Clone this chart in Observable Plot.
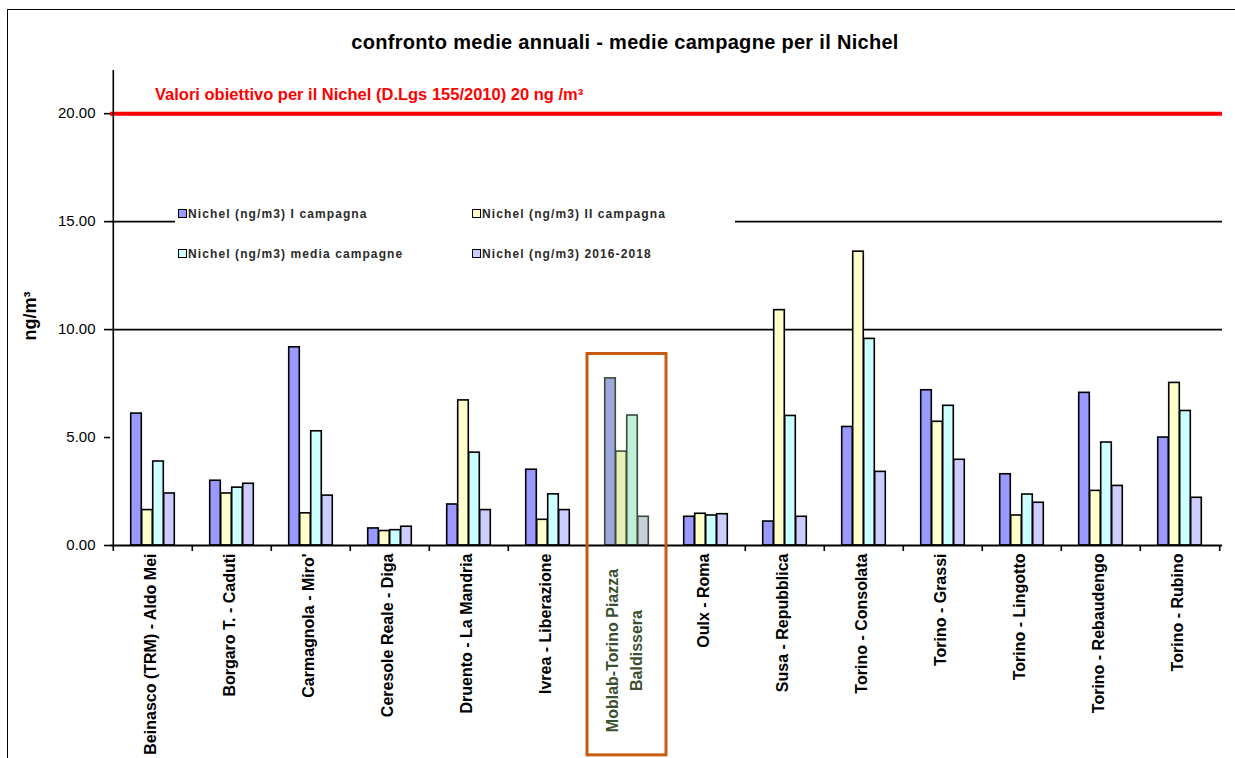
<!DOCTYPE html>
<html>
<head>
<meta charset="utf-8">
<script src="https://cdn.jsdelivr.net/npm/d3@7"></script>
<script src="https://cdn.jsdelivr.net/npm/@observablehq/plot@0.6"></script>
<style>
  html, body { margin: 0; padding: 0; background: #fff; overflow: hidden; width: 1235px; height: 758px; }
  body { position: relative; font-family: "Liberation Sans", Arial, sans-serif; }
  #frame { position: absolute; left: 7px; top: 9px; width: 1300px; height: 800px; border: 1.5px solid #000; box-sizing: border-box; }
  #title { position: absolute; left: 0; top: 31px; width: 1250px; text-align: center; font-weight: bold; font-size: 20px; letter-spacing: 0.3px; color: #000; }
  #chart { position: absolute; left: 0; top: 0; }
  #legend { position: absolute; left: 175px; top: 197px; width: 560px; height: 78px; background: #fff; }
  .li { position: absolute; font-size: 12px; font-weight: bold; letter-spacing: 1.1px; color: #2a2a2a; white-space: nowrap; }
  .sw { display: inline-block; width: 7px; height: 7px; border: 1px solid #000; margin-right: 1px; vertical-align: 0px; }
</style>
</head>
<body>
<div id="frame"></div>
<div id="chart"></div>
<div id="title"></div>
<div id="legend"></div>
<script>
// ---- data ----
const titleText = "confronto medie annuali - medie campagne per il Nichel";
const yLabel = "ng/m³";
const targetLabel = "Valori obiettivo per il Nichel (D.Lgs 155/2010) 20 ng /m³";
const targetValue = 20;
const stations = [
  "Beinasco (TRM) - Aldo Mei",
  "Borgaro T. - Caduti",
  "Carmagnola - Miro'",
  "Ceresole Reale - Diga",
  "Druento - La Mandria",
  "Ivrea - Liberazione",
  "Moblab-Torino Piazza\nBaldissera",
  "Oulx - Roma",
  "Susa - Repubblica",
  "Torino - Consolata",
  "Torino - Grassi",
  "Torino - Lingotto",
  "Torino - Rebaudengo",
  "Torino - Rubino"
];
const highlightStation = "Moblab-Torino Piazza\nBaldissera";
const seriesNames = [
  "Nichel (ng/m3) I campagna",
  "Nichel (ng/m3) II campagna",
  "Nichel (ng/m3) media campagne",
  "Nichel (ng/m3) 2016-2018"
];
const campagna1 = [6.11, 3.00, 9.18, 0.79, 1.90, 3.51, 7.74, 1.33, 1.11, 5.49, 7.19, 3.30, 7.07, 5.00];
const campagna2 = [1.64, 2.41, 1.49, 0.67, 6.72, 1.19, 4.35, 1.47, 10.90, 13.61, 5.73, 1.39, 2.53, 7.53];
const mediaCampagne = [3.89, 2.68, 5.29, 0.71, 4.30, 2.37, 6.02, 1.39, 6.00, 9.57, 6.47, 2.36, 4.77, 6.23];
const media2016_2018 = [2.41, 2.86, 2.31, 0.87, 1.64, 1.64, 1.33, 1.45, 1.33, 3.41, 3.97, 1.98, 2.76, 2.21];
const yTicks = [0, 5, 10, 15, 20];
const gridValues = [10, 15];
const yMax = 22;
const highlightTop = 8.87;
const highlightBottom = -9.72;

// ---- styles ----
const seriesColors = ["#9999FF", "#FFFFCC", "#CCFFFF", "#CCCCFF"];
const highlightColors = ["#9DA8DC", "#E6EFB8", "#C0EFD8", "#C6CFDA"];
const highlightStroke = "#3c4b3a";
const boxColor = "#C55A11";

const W = 1235, H = 758;
const mL = 110, mR = 13, mT = 70, mB = 213;
const step = (W - mL - mR) / stations.length;
const bw = 11;
const pad = (step - 4 * bw) / 2;

const allSeries = [campagna1, campagna2, mediaCampagne, media2016_2018];
const data = [];
allSeries.forEach((vals, si) => vals.forEach((v, ci) => data.push({station: stations[ci], series: si, value: v})));

const barMarks = allSeries.map((_, si) => Plot.barY(data.filter(d => d.series === si), {
  x: "station",
  y: "value",
  fill: d => d.station === highlightStation ? highlightColors[si] : seriesColors[si],
  stroke: d => d.station === highlightStation ? highlightStroke : "#000",
  strokeWidth: 1.6,
  insetLeft: pad + si * bw,
  insetRight: step - pad - (si + 1) * bw
}));

const chart = Plot.plot({
  width: W,
  height: H,
  marginLeft: mL,
  marginRight: mR,
  marginTop: mT,
  marginBottom: mB,
  style: {fontFamily: "'Liberation Sans', Arial, sans-serif", fontSize: "13px", background: "transparent", color: "#000"},
  x: {domain: stations, padding: 0},
  y: {domain: [0, yMax]},
  color: {type: "identity"},
  marks: [
    Plot.ruleY(gridValues, {stroke: "#000", strokeWidth: 1.6}),
    ...barMarks,
    Plot.ruleY([targetValue], {stroke: "#FF0000", strokeWidth: 4}),
    Plot.ruleY([0], {stroke: "#000", strokeWidth: 2}),
    Plot.ruleX([stations[0]], {x: d => d, y1: 0, y2: yMax, dx: -step / 2, stroke: "#000", strokeWidth: 1.6}),
    Plot.ruleX(stations, {x: d => d, y1: 0, y2: 0, dx: -step / 2, insetBottom: -6, stroke: "#000", strokeWidth: 1.6}),
    Plot.ruleX([stations[stations.length - 1]], {x: d => d, y1: 0, y2: 0, dx: step / 2, insetBottom: -6, stroke: "#000", strokeWidth: 1.6}),
    Plot.barY([highlightStation], {x: d => d, y1: highlightBottom, y2: highlightTop, fill: "none", stroke: boxColor, strokeWidth: 3}),
    Plot.text([targetLabel], {x: () => stations[0], y: () => targetValue, text: d => d, textAnchor: "start", dx: 2, dy: -19, fill: "#FF0000", fontWeight: "bold", fontSize: 16.5, letterSpacing: 0.6}),
    Plot.axisY({ticks: yTicks, tickFormat: d => d.toFixed(2), tickSize: 6, tickPadding: 9, label: null, fontSize: 15, letterSpacing: 1, stroke: "#000", strokeWidth: 1.6}),
    Plot.axisX({tickSize: 0, tickRotate: -90, tickPadding: 8, tickFormat: d => d === highlightStation ? "" : d, label: null, fontSize: 16, fontWeight: "bold", letterSpacing: 0.5, dx: -2}),
    Plot.text([highlightStation], {x: d => d, text: d => d, frameAnchor: "bottom", dy: 105, dx: -5, rotate: -90, textAnchor: "middle", lineAnchor: "middle", fontSize: 16, fontWeight: "bold", letterSpacing: 0.5, fill: "#3d4f31", lineHeight: 1.5}),
    Plot.text([yLabel], {text: d => d, frameAnchor: "left", dx: -80, dy: 8, rotate: -90, textAnchor: "middle", fontSize: 18, fontWeight: "bold", fill: "#000"})
  ]
});
document.getElementById("chart").appendChild(chart);
document.getElementById("title").textContent = titleText;

// legend
const legend = document.getElementById("legend");
const legendPos = [[3, 10], [297, 10], [3, 50], [297, 50]];
seriesNames.forEach((name, i) => {
  const el = document.createElement("div");
  el.className = "li";
  el.style.left = legendPos[i][0] + "px";
  el.style.top = legendPos[i][1] + "px";
  const sw = document.createElement("span");
  sw.className = "sw";
  sw.style.background = seriesColors[i];
  el.appendChild(sw);
  el.appendChild(document.createTextNode(name));
  legend.appendChild(el);
});
</script>
</body>
</html>
